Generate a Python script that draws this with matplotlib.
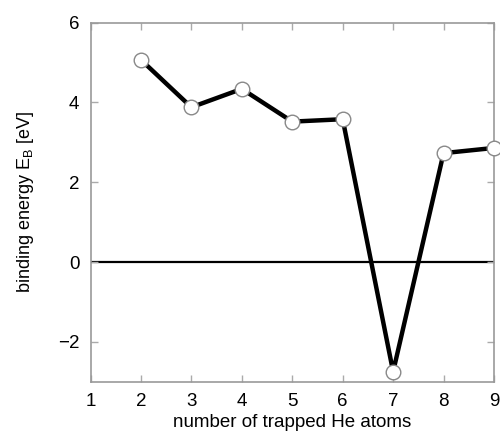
import matplotlib
matplotlib.use("Agg")
import matplotlib.pyplot as plt

# number of trapped He atoms vs binding energy
n_he = [2, 3, 4, 5, 6, 7, 8, 9]
e_bind = [5.07, 3.88, 4.34, 3.52, 3.58, -2.75, 2.73, 2.86]
x_ticks = [1, 2, 3, 4, 5, 6, 7, 8, 9]
y_ticks = [-2, 0, 2, 4, 6]

plt.rcParams['font.family'] = ['Liberation Sans', 'DejaVu Sans']

fig = plt.figure(figsize=(5, 4.32), dpi=100)
ax = fig.add_axes([0.181, 0.1164, 0.807, 0.8311])

ax.axhline(0, color="black", lw=1.6, zorder=1)
ax.plot(n_he, e_bind, color="black", lw=3.2, marker="o", ms=10.5,
        mfc="white", mec="#888888", mew=1.0, zorder=3, clip_on=False)

ax.set_xlim(1, 9)
ax.set_ylim(-3, 6)
ax.set_xticks(x_ticks)
ax.set_yticks(y_ticks)
ax.set_yticklabels(["\u22122", "0", "2", "4", "6"])

for s in ax.spines.values():
    s.set_color("#999999")
    s.set_linewidth(1.2)
ax.tick_params(direction="in", length=5, width=1, color="#aaaaaa",
               top=True, right=True, labelsize=13.5, pad=8)

ax.set_xlabel("number of trapped He atoms", fontsize=13.5, labelpad=3)
ax.set_ylabel("binding energy E$_\\mathregular{B}$ [eV]", fontsize=13, labelpad=16)

fig.savefig("out.png", dpi=100)
